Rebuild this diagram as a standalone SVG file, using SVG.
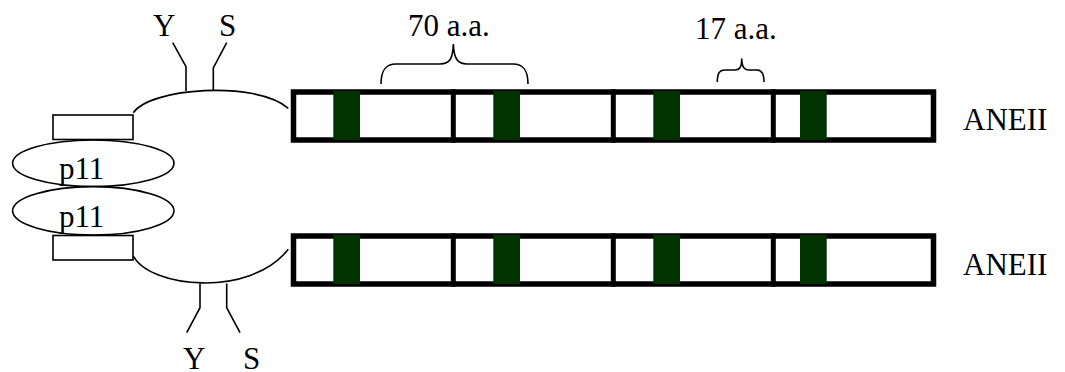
<svg xmlns="http://www.w3.org/2000/svg" width="1065" height="372" viewBox="0 0 1065 372">
<style>
.t{font-family:"Liberation Serif","Times New Roman",serif;font-size:31px;fill:#000}
.thin{fill:none;stroke:#000;stroke-width:1.6}
.box{fill:#fff;stroke:#000;stroke-width:1.6}
.bar{fill:#fff;stroke:#000;stroke-width:5.5}
.div{stroke:#000;stroke-width:5}
.dom{fill:#003300}
</style>
<rect width="1065" height="372" fill="#fff"/>
<g id="bar-top">
<rect class="bar" x="293.5" y="92" width="640" height="48"/>
<line class="div" x1="453.3" y1="89.3" x2="453.3" y2="142.7"/>
<line class="div" x1="613.3" y1="89.3" x2="613.3" y2="142.7"/>
<line class="div" x1="773.3" y1="89.3" x2="773.3" y2="142.7"/>
<rect class="dom" x="333.3" y="90.7" width="26.7" height="49.3"/>
<rect class="dom" x="493.3" y="90.7" width="26.7" height="49.3"/>
<rect class="dom" x="653.3" y="90.7" width="26.7" height="49.3"/>
<rect class="dom" x="800" y="90.7" width="26.7" height="49.3"/>
</g>
<g id="bar-bottom">
<rect class="bar" x="293.5" y="236" width="640" height="48"/>
<line class="div" x1="453.3" y1="233.3" x2="453.3" y2="286.7"/>
<line class="div" x1="613.3" y1="233.3" x2="613.3" y2="286.7"/>
<line class="div" x1="773.3" y1="233.3" x2="773.3" y2="286.7"/>
<rect class="dom" x="333.3" y="234.7" width="26.7" height="49.3"/>
<rect class="dom" x="493.3" y="234.7" width="26.7" height="49.3"/>
<rect class="dom" x="653.3" y="234.7" width="26.7" height="49.3"/>
<rect class="dom" x="800" y="234.7" width="26.7" height="49.3"/>
</g>
<g id="label-aneii-top"><text class="t" x="963" y="130">ANEII</text></g>
<g id="label-aneii-bottom"><text class="t" x="963" y="274.5">ANEII</text></g>
<g id="brace-70">
<path class="thin" d="M381,84 C381,71 385,64 396,64 L440,64 C450,64 453,58 453.3,44 C454,58 457,64 467,64 L513,64 C524,64 528,71 528,84"/>
<text class="t" x="408" y="35.5">70 a.a.</text>
</g>
<g id="brace-17">
<path class="thin" d="M717.3,82 C717.3,74 719,70 725,70 L735,70 C740,70 741.7,67 741.7,58.5 C742,67 744,70 749,70 L757,70 C762,70 764,74 764,82"/>
<text class="t" x="695" y="39">17 a.a.</text>
</g>
<g id="p11-top">
<ellipse class="box" cx="93.3" cy="163.3" rx="80.7" ry="23.3"/>
<text class="t" x="59" y="179">p11</text>
</g>
<g id="p11-bottom">
<ellipse class="box" cx="93.3" cy="210.8" rx="80.7" ry="24.2"/>
<text class="t" x="59" y="226.7">p11</text>
</g>
<g id="tag-top"><rect class="box" x="53" y="115" width="80" height="24.5"/></g>
<g id="tag-bottom"><rect class="box" x="53" y="235.5" width="80" height="24.5"/></g>
<g id="connectors">
<path class="thin" d="M133.3,112.7 C150,88 255,80 288.3,108.3"/>
<path class="thin" d="M172.7,42.7 L186,66.7 L186,91"/>
<path class="thin" d="M226.7,42.7 L213.3,68 L213.3,90.5"/>
<path class="thin" d="M133.3,256 C150,288 250,298 288.3,249.3"/>
<path class="thin" d="M200,283.5 L200,307.7 L186.7,332.7"/>
<path class="thin" d="M226.7,283.5 L226.7,307.7 L240,332.7"/>
</g>
<g id="labels-ys">
<text class="t" x="153" y="36">Y</text>
<text class="t" x="219" y="36">S</text>
<text class="t" x="183" y="368.5">Y</text>
<text class="t" x="243" y="368.5">S</text>
</g>
</svg>
